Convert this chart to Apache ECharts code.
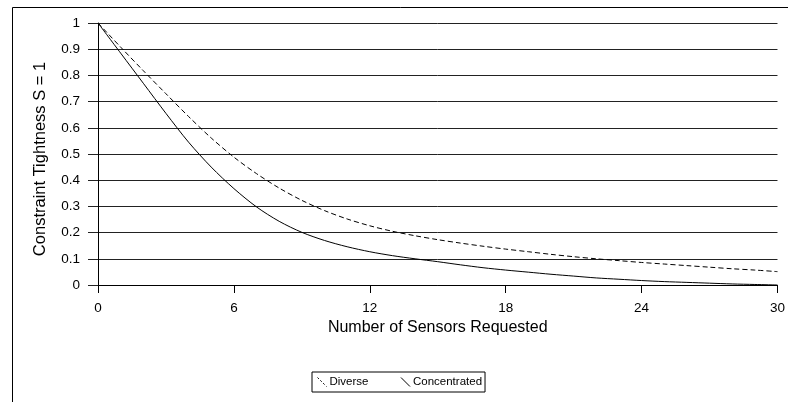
<!DOCTYPE html>
<html>
<head>
<meta charset="utf-8">
<script src="https://cdn.jsdelivr.net/npm/echarts@6/dist/echarts.min.js"></script>
<style>html,body{margin:0;padding:0;background:#fff}#c{width:788px;height:402px}</style>
</head>
<body>
<div id="c"></div>
<script>
var sensors = [0,1,2,3,4,5,6,7,8,9,10,11,12,13,14,15,16,17,18,19,20,21,22,23,24,25,26,27,28,29,30];
var diverse = [1.0,0.908,0.818,0.73,0.643,0.561,0.488,0.425,0.37,0.323,0.284,0.252,0.226,0.205,0.188,0.173,0.16,0.148,0.137,0.127,0.117,0.108,0.1,0.093,0.086,0.08,0.074,0.068,0.062,0.057,0.051];
var concentrated = [1.0,0.885,0.77,0.655,0.545,0.45,0.368,0.298,0.243,0.201,0.17,0.146,0.127,0.112,0.1,0.089,0.077,0.066,0.057,0.049,0.041,0.034,0.027,0.022,0.017,0.013,0.01,0.007,0.004,0.002,0.0];
var seriesNames = ['Diverse','Concentrated'];
var xTitle = 'Number of Sensors Requested';
var yTitle = 'Constraint Tightness S = 1';

function pairs(ys){ return sensors.map(function(x,i){ return [x, ys[i]]; }); }

var chart = echarts.init(document.getElementById('c'), null, {renderer:'canvas'});
var font = 'Liberation Sans, Arial, sans-serif';
chart.setOption({
  animation: false,
  backgroundColor: '#fff',
  graphic: [{
    type: 'rect', left: 10, top: 5, silent: true,
    shape: {x: 0, y: 0, width: 900, height: 500},
    style: {fill: 'none', stroke: '#000', lineWidth: 1}
  }],
  grid: {left: 98, right: 8, top: 23, bottom: 117, containLabel: false},
  xAxis: {
    type: 'value', min: 0, max: 30, interval: 6,
    name: xTitle, nameLocation: 'middle', nameGap: 34,
    nameTextStyle: {fontFamily: font, fontSize: 16, color: '#000'},
    axisLine: {show: true, lineStyle: {color: '#000', width: 1}},
    axisTick: {show: true, length: 8, lineStyle: {color: '#000'}},
    axisLabel: {fontFamily: font, fontSize: 13.5, color: '#000', margin: 16},
    splitLine: {show: false}
  },
  yAxis: {
    type: 'value', min: 0, max: 1, interval: 0.1,
    name: yTitle, nameLocation: 'middle', nameGap: 49,
    nameTextStyle: {fontFamily: font, fontSize: 16.5, color: '#000', padding: [0, 10, 0, 0]},
    axisLine: {show: true, lineStyle: {color: '#000', width: 1}},
    axisTick: {show: true, length: 10, lineStyle: {color: '#222'}},
    axisLabel: {fontFamily: font, fontSize: 13.5, color: '#000', margin: 18,
      formatter: function(v){ return String(+v.toFixed(1)); }},
    splitLine: {show: true, lineStyle: {color: '#222', width: 1}}
  },
  legend: {
    left: 312, top: 372, orient: 'horizontal',
    borderColor: '#000', borderWidth: 1, padding: [3, 3, 3, 3],
    itemGap: 30, itemWidth: 9, itemHeight: 10,
    textStyle: {fontFamily: font, fontSize: 11.5, color: '#000', padding: [0,0,0,-2]},
    data: [
      {name: seriesNames[0], icon: 'path://M0,0L10,10',
       itemStyle: {color: 'none', borderColor: '#000', borderWidth: 1, borderType: [2,2]}},
      {name: seriesNames[1], icon: 'path://M0,0L10,10',
       itemStyle: {color: 'none', borderColor: '#000', borderWidth: 1}}
    ]
  },
  series: [
    {name: seriesNames[0], type: 'line', data: pairs(diverse), showSymbol: false, symbol: 'none',
     smooth: 0.3, lineStyle: {color: '#000', width: 1, type: [5,3]}, itemStyle: {color: '#000'}},
    {name: seriesNames[1], type: 'line', data: pairs(concentrated), showSymbol: false, symbol: 'none',
     smooth: 0.3, lineStyle: {color: '#000', width: 1, type: 'solid'}, itemStyle: {color: '#000'}}
  ]
});
</script>
</body>
</html>
